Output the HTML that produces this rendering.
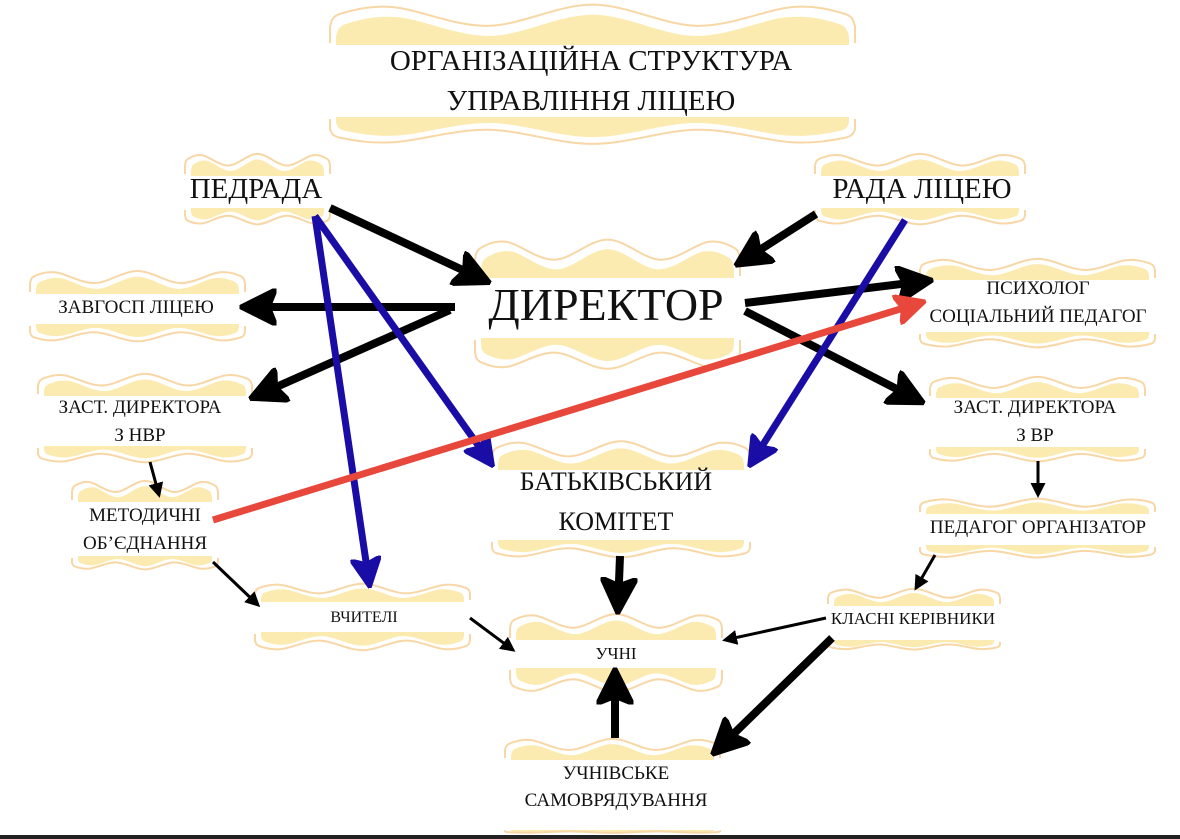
<!DOCTYPE html>
<html><head><meta charset="utf-8"><style>
html,body{margin:0;padding:0;background:#fff;}
svg{display:block;}
text{font-family:"Liberation Serif","DejaVu Serif",serif;fill:#111;text-anchor:middle;}
</style></head><body>
<svg id="s" width="1180" height="839" viewBox="0 0 1180 839" xmlns="http://www.w3.org/2000/svg">
<defs>
<marker id="ab" viewBox="0 0 10 10" refX="8" refY="5" markerWidth="4.6" markerHeight="4.6" orient="auto" markerUnits="strokeWidth"><path d="M0,0 L10,5 L0,10 L2,5 Z" fill="#000" stroke="#000" stroke-width="1" stroke-linejoin="round"/></marker>
<marker id="at" viewBox="0 0 10 10" refX="8" refY="5" markerWidth="5" markerHeight="5" orient="auto" markerUnits="strokeWidth"><path d="M0,0 L10,5 L0,10 Z" fill="#000"/></marker>
<marker id="au" viewBox="0 0 10 10" refX="8" refY="5" markerWidth="4.4" markerHeight="4.4" orient="auto" markerUnits="strokeWidth"><path d="M0,0 L10,5 L0,10 L2,5 Z" fill="#1a0da6" stroke="#1a0da6" stroke-width="1" stroke-linejoin="round"/></marker>
<marker id="ar" viewBox="0 0 10 10" refX="8" refY="5" markerWidth="4.4" markerHeight="4.4" orient="auto" markerUnits="strokeWidth"><path d="M0,0 L10,5 L0,10 L2,5 Z" fill="#e8483c" stroke="#e8483c" stroke-width="1" stroke-linejoin="round"/></marker>
</defs>
<g id="banners"></g>
<g id="texts">
<text x="591" y="70" font-size="29">ОРГАНІЗАЦІЙНА СТРУКТУРА</text>
<text x="591" y="110" font-size="29">УПРАВЛІННЯ ЛІЦЕЮ</text>
<text x="256" y="198" font-size="29">ПЕДРАДА</text>
<text x="922" y="198" font-size="29">РАДА ЛІЦЕЮ</text>
<text x="606" y="320" font-size="46">ДИРЕКТОР</text>
<text x="136" y="313" font-size="19">ЗАВГОСП ЛІЦЕЮ</text>
<text x="1038" y="294" font-size="19">ПСИХОЛОГ</text>
<text x="1038" y="322" font-size="19">СОЦІАЛЬНИЙ ПЕДАГОГ</text>
<text x="140" y="413" font-size="19">ЗАСТ. ДИРЕКТОРА</text>
<text x="140" y="441" font-size="19">З НВР</text>
<text x="1035" y="413" font-size="19">ЗАСТ. ДИРЕКТОРА</text>
<text x="1035" y="441" font-size="19">З ВР</text>
<text x="145" y="521" font-size="19">МЕТОДИЧНІ</text>
<text x="145" y="549" font-size="19">ОБ’ЄДНАННЯ</text>
<text x="616" y="490" font-size="26">БАТЬКІВСЬКИЙ</text>
<text x="616" y="530" font-size="26">КОМІТЕТ</text>
<text x="1038" y="533" font-size="19">ПЕДАГОГ ОРГАНІЗАТОР</text>
<text x="364" y="622" font-size="16">ВЧИТЕЛІ</text>
<text x="913" y="624" font-size="17">КЛАСНІ КЕРІВНИКИ</text>
<text x="616" y="659" font-size="17">УЧНІ</text>
<text x="616" y="779" font-size="19">УЧНІВСЬКЕ</text>
<text x="616" y="806" font-size="19">САМОВРЯДУВАННЯ</text>
</g>
<g fill="none" stroke-linecap="butt">
<line x1="330" y1="208" x2="484" y2="280" stroke="#000" stroke-width="8" marker-end="url(#ab)"/>
<line x1="816" y1="214" x2="741" y2="262" stroke="#000" stroke-width="8" marker-end="url(#ab)"/>
<line x1="455" y1="307" x2="247" y2="307" stroke="#000" stroke-width="8" marker-end="url(#ab)"/>
<line x1="450" y1="310" x2="256" y2="396" stroke="#000" stroke-width="8" marker-end="url(#ab)"/>
<line x1="745" y1="303" x2="926" y2="281" stroke="#000" stroke-width="8" marker-end="url(#ab)"/>
<line x1="745" y1="311" x2="918" y2="400" stroke="#000" stroke-width="8" marker-end="url(#ab)"/>
<line x1="150" y1="462" x2="159" y2="495" stroke="#000" stroke-width="3" marker-end="url(#at)"/>
<line x1="1038" y1="461" x2="1038" y2="495" stroke="#000" stroke-width="3" marker-end="url(#at)"/>
<line x1="213" y1="562" x2="258" y2="605" stroke="#000" stroke-width="3" marker-end="url(#at)"/>
<line x1="935" y1="555" x2="916" y2="588" stroke="#000" stroke-width="3" marker-end="url(#at)"/>
<line x1="826" y1="618" x2="725" y2="640" stroke="#000" stroke-width="3" marker-end="url(#at)"/>
<line x1="470" y1="618" x2="513" y2="650" stroke="#000" stroke-width="3" marker-end="url(#at)"/>
<line x1="832" y1="638" x2="717" y2="750" stroke="#000" stroke-width="8" marker-end="url(#ab)"/>
<line x1="620" y1="556" x2="618" y2="607" stroke="#000" stroke-width="8" marker-end="url(#ab)"/>
<line x1="615" y1="738" x2="615" y2="675" stroke="#000" stroke-width="8" marker-end="url(#ab)"/>
<line x1="315" y1="216" x2="490" y2="462" stroke="#1a0da6" stroke-width="7" marker-end="url(#au)"/>
<line x1="315" y1="216" x2="369" y2="582" stroke="#1a0da6" stroke-width="7" marker-end="url(#au)"/>
<line x1="905" y1="220" x2="752" y2="462" stroke="#1a0da6" stroke-width="7" marker-end="url(#au)"/>
<line x1="213" y1="520" x2="920" y2="303" stroke="#e8483c" stroke-width="7" marker-end="url(#ar)"/>
</g>
<rect x="0" y="835" width="1180" height="4" fill="#222"/>
</svg>
<script>
(function(){
var g=document.getElementById('banners');
var NS='http://www.w3.org/2000/svg';
function cr(pts){var d='M'+pts[0][0]+','+pts[0][1];
for(var i=0;i<pts.length-1;i++){var p0=pts[i-1]||pts[i],p1=pts[i],p2=pts[i+1],p3=pts[i+2]||p2;
d+=' C'+(p1[0]+(p2[0]-p0[0])/6)+','+(p1[1]+(p2[1]-p0[1])/6)+' '+(p2[0]-(p3[0]-p1[0])/6)+','+(p2[1]-(p3[1]-p1[1])/6)+' '+p2[0]+','+p2[1];}
return d;}
var prof=[[0,0.3],[0.02,0.7],[0.12,0.92],[0.3,0.3],[0.5,1],[0.7,0.3],[0.88,0.92],[0.98,0.7],[1,0.3]];
function mk(tag,a){var e=document.createElementNS(NS,tag);for(var k in a)e.setAttribute(k,a[k]);g.appendChild(e);}
function banner(x,y,w,h,b1,b2){
 var t=b1-y, bt=y+h-b2;
 var x0=x+6,w0=w-12;
 var py=prof.map(function(p){return [x0+p[0]*w0, b1-p[1]*t*0.72];});
 mk('path',{d:'M'+x0+','+b1+' L'+cr(py).slice(1)+' L'+(x0+w0)+','+b1+' Z',fill:'#fcebb0'});
 var po=prof.map(function(p){return [x+p[0]*w, b1-p[1]*t*0.72-t*0.24];});
 mk('path',{d:'M'+x+','+(b1-2)+' L'+cr(po).slice(1)+' L'+(x+w)+','+(b1-2),fill:'none',stroke:'#f8d7a6','stroke-width':2});
 var qy=prof.map(function(p){return [x0+p[0]*w0, b2+p[1]*bt*0.72];});
 mk('path',{d:'M'+x0+','+b2+' L'+cr(qy).slice(1)+' L'+(x0+w0)+','+b2+' Z',fill:'#fcebb0'});
 var qo=prof.map(function(p){return [x+p[0]*w, b2+p[1]*bt*0.72+bt*0.24];});
 mk('path',{d:'M'+x+','+(b2+2)+' L'+cr(qo).slice(1)+' L'+(x+w)+','+(b2+2),fill:'none',stroke:'#f8d7a6','stroke-width':2});
}
banner(330,3,525,142,45,117);
banner(185,153,145,72,176,208);
banner(815,153,210,72,176,208);
banner(475,238,265,132,278,338);
banner(30,270,215,72,294,324);
banner(920,258,235,90,280,332);
banner(38,373,214,90,396,446);
banner(930,376,215,86,398,447);
banner(72,480,146,90,502,556);
banner(492,440,258,118,470,540);
banner(920,498,235,60,514,545);
banner(255,583,215,68,602,632);
banner(828,588,172,62,606,640);
banner(510,613,212,80,640,668);
banner(505,738,215,95,760,830);
})();
</script>
</body></html>
